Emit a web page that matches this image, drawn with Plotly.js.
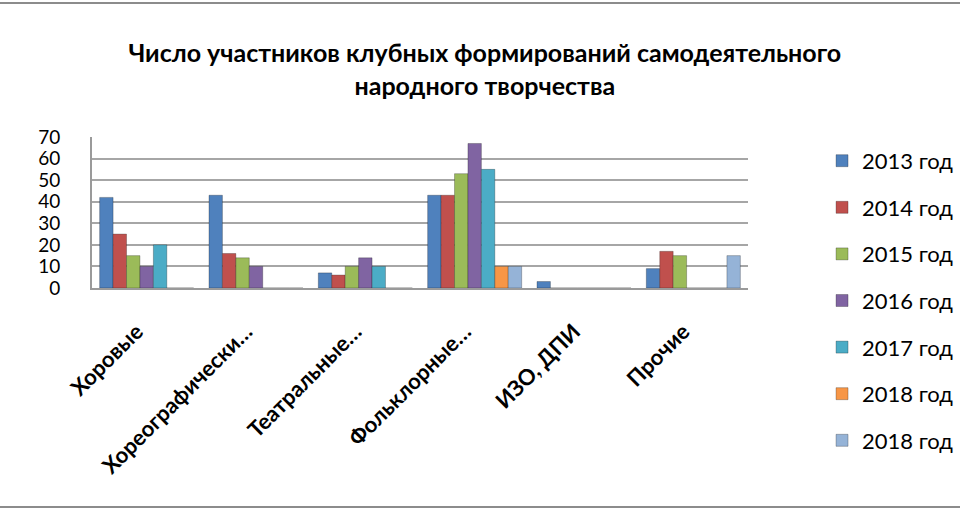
<!DOCTYPE html>
<html>
<head>
<meta charset="utf-8">
<script src="https://cdn.plot.ly/plotly-3.0.1.min.js"></script>
<style>
  html, body { margin: 0; padding: 0; background: #fff; }
  #wrap { position: relative; width: 960px; height: 510px; }
  #chart { width: 960px; height: 510px; }
  .hline { position: absolute; left: 0; width: 960px; height: 2px; background: #8c8c8c; }
</style>
</head>
<body>
<div id="wrap">
  <div id="chart"></div>
  <div class="hline" style="top:2px"></div>
  <div class="hline" style="top:506px"></div>
</div>
<script>
const categories = ["Хоровые", "Хореографически…", "Театральные…", "Фольклорные…", "ИЗО, ДПИ", "Прочие"];
const seriesNames = ["2013 год", "2014 год", "2015 год", "2016 год", "2017 год", "2018 год", "2018 год"];
const y2013 = [42, 43, 7, 43, 3, 9];
const y2014 = [25, 16, 6, 43, 0, 17];
const y2015 = [15, 14, 10, 53, 0, 15];
const y2016 = [10, 10, 14, 67, 0, 0];
const y2017 = [20, 0, 10, 55, 0, 0];
const y2018a = [0, 0, 0, 10, 0, 0];
const y2018b = [0, 0, 0, 10, 0, 15];
const yTicks = [0, 10, 20, 30, 40, 50, 60, 70];
const colors = ["#4F81BD", "#C0504D", "#9BBB59", "#8064A2", "#4BACC6", "#F79646", "#95B3D7"];

const FONT = "Lato, 'Open Sans', sans-serif";
const values = [y2013, y2014, y2015, y2016, y2017, y2018a, y2018b];
const traces = values.map((v, i) => ({
  type: "bar",
  x: categories,
  y: v,
  name: seriesNames[i],
  legendgroup: "g" + i,
  marker: { color: colors[i], line: { color: "rgba(0,0,0,0.25)", width: 1 } },
  hoverinfo: "x+y+name"
}));

const layout = {
  width: 960,
  height: 510,
  paper_bgcolor: "#ffffff",
  plot_bgcolor: "#ffffff",
  margin: { l: 92, r: 212, t: 137, b: 222 },
  font: { family: FONT, color: "#000" },
  title: {
    text: "<b>Число участников клубных формирований самодеятельного<br>народного творчества</b>",
    font: { family: FONT, size: 25, color: "#000" },
    x: 0.505,
    xanchor: "center",
    yref: "container",
    y: 0.878,
    yanchor: "middle"
  },
  bargap: 0.14,
  bargroupgap: 0,
  xaxis: {
    type: "category",
    tickangle: -45,
    tickfont: { family: FONT, size: 22, color: "#000", weight: 700 },
    ticks: "outside",
    ticklen: 20,
    tickcolor: "rgba(0,0,0,0)",
    ticklabelshift: -10,
    showline: true,
    linecolor: "#9a9a9a",
    linewidth: 2,
    showgrid: false,
    fixedrange: true
  },
  yaxis: {
    range: [0, 70],
    tickvals: yTicks,
    ticktext: yTicks.map(String),
    tickfont: { family: FONT, size: 19, color: "#000" },
    showgrid: true,
    gridcolor: "#a6a6a6",
    gridwidth: 2,
    showline: true,
    linecolor: "#9a9a9a",
    linewidth: 2,
    zeroline: false,
    ticks: "",
    ticklabelstandoff: 26,
    fixedrange: true
  },
  legend: {
    x: 0.999,
    xref: "container",
    xanchor: "right",
    yref: "container",
    y: 0.41,
    yanchor: "middle",
    maxheight: 1,
    font: { family: FONT, size: 22, color: "#000" },
    tracegroupgap: 15,
    itemwidth: 30,
    bgcolor: "rgba(0,0,0,0)"
  },
  showlegend: true
};

Plotly.newPlot("chart", traces, layout, { displayModeBar: false, staticPlot: true });
</script>
</body>
</html>
